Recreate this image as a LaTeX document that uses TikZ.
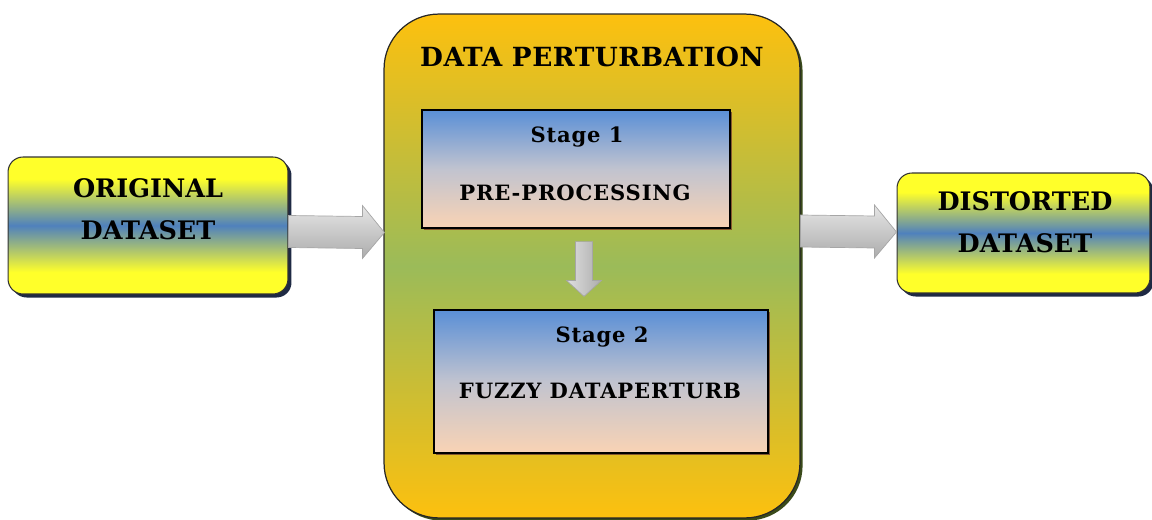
\documentclass[tikz,border=0pt]{standalone}
\usepackage{fontspec}
\setmainfont{DejaVu Serif}
\usetikzlibrary{calc,shadows}
\definecolor{gold}{HTML}{FDC00E}
\definecolor{olivegreen}{HTML}{9BBB59}
\definecolor{sblue}{HTML}{5A8FD6}
\definecolor{peach}{HTML}{F9D3B4}
\definecolor{dyellow}{HTML}{FFFF2A}
\definecolor{dblue}{HTML}{4F81BD}
\definecolor{navyshadow}{HTML}{1F2A44}
\definecolor{oliveshadow}{HTML}{3A4A1A}
\pgfdeclareverticalshading{ybyshade}{100bp}{color(0bp)=(dyellow); color(33bp)=(dyellow);
  color(50bp)=(dblue); color(67bp)=(dyellow); color(100bp)=(dyellow)}
\tikzset{
  databox/.style={draw=black!80, line width=0.6pt, rounded corners=0.3cm,
    shading=ybyshade,
    drop shadow={shadow xshift=2pt, shadow yshift=-2pt, fill=navyshadow, opacity=1}},
  mainbox/.style={draw=black!85, line width=0.7pt, rounded corners=1.1cm,
    top color=gold, bottom color=gold, middle color=olivegreen,
    drop shadow={shadow xshift=1.5pt, shadow yshift=-1.5pt, fill=oliveshadow, opacity=1}},
  stagebox/.style={draw=black, line width=0.7pt,
    top color=sblue, bottom color=peach, middle color=peach!55!sblue!80!white,
    drop shadow={shadow xshift=1pt, shadow yshift=-1pt, fill=brown!70!black, opacity=1}},
  bigtxt/.style={font=\bfseries\fontsize{14.5}{18}\selectfont, inner sep=0pt},
  titletxt/.style={font=\bfseries\fontsize{15}{18}\selectfont\addfontfeature{LetterSpace=2}, inner sep=0pt},
  stagetxt/.style={font=\bfseries\fontsize{12}{14}\selectfont\addfontfeature{LetterSpace=4}, inner sep=0pt},
  garrow/.style={draw=gray!70, line width=0.4pt, top color=gray!20, bottom color=gray!65},
  varrow/.style={draw=gray!70, line width=0.4pt, left color=gray!25, right color=gray!65},
}
\newcommand{\harrow}[2]{%
  \path[garrow] ($(#1)+(0,-16)$) -- ($(#2)+(-22,-16)$) -- ($(#2)+(-22,-27)$) -- (#2)
    -- ($(#2)+(-22,26)$) -- ($(#2)+(-22,16)$) -- ($(#1)+(0,16)$) -- cycle;}
\begin{document}
\begin{tikzpicture}[x=0.02cm, y=-0.02cm]
\useasboundingbox (0,0) rectangle (1152,520);
% main container
\node[mainbox, minimum width=8.32cm, minimum height=10.08cm] (main) at (592,266) {};
\node[titletxt] (title) at (592,57) {DATA PERTURBATION};
% stages
\node[stagebox, minimum width=6.16cm, minimum height=2.36cm] (s1) at (576,169) {};
\node[stagetxt] (s1a) at (577,137) {Stage 1};
\node[stagetxt] (s1b) at (575,193) {PRE-PROCESSING};
\node[stagebox, minimum width=6.68cm, minimum height=2.86cm] (s2) at (601,381.5) {};
\node[stagetxt] (s2a) at (602,337) {Stage 2};
\node[stagetxt] (s2b) at (600,391) {FUZZY DATAPERTURB};
% side boxes
\node[databox, minimum width=5.6cm, minimum height=2.74cm] (orig) at (148,225.5) {};
\node[bigtxt, align=center] (origt) at (148,209) {ORIGINAL\\[6pt]DATASET};
\node[databox, minimum width=5.06cm, minimum height=2.4cm] (dist) at (1023.5,233) {};
\node[bigtxt, align=center] (distt) at (1025,222) {DISTORTED\\[6pt]DATASET};
% arrows
\coordinate (a1s) at ($(orig.east)+(0,6)$);
\coordinate (a1e) at ($(main.west |- a1s)+(1,1)$);
\harrow{a1s}{a1e}
\coordinate (a2s) at ($(main.east |- dist.west)+(0,-2)$);
\coordinate (a2e) at ($(dist.west)+(0,-1)$);
\harrow{a2s}{a2e}
\coordinate (a3s) at ($(s1.south)+(8,13)$);
\coordinate (a3e) at ($(s2.north -| a3s)+(0,-13)$);
\path[varrow]
  ($(a3s)+(-8.5,0)$) -- ($(a3e)+(-8.5,-16)$) -- ($(a3e)+(-17.5,-16)$) -- (a3e)
  -- ($(a3e)+(17.5,-16)$) -- ($(a3e)+(8.5,-16)$) -- ($(a3s)+(8.5,0)$) -- cycle;
\end{tikzpicture}
\end{document}
